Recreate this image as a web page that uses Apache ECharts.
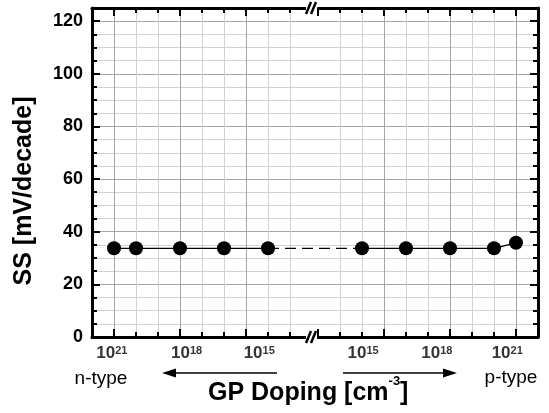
<!DOCTYPE html>
<html><head><meta charset="utf-8">
<script src="https://cdn.jsdelivr.net/npm/echarts@6/dist/echarts.min.js"></script>
<style>html,body{margin:0;padding:0;background:#fff}#c{width:549px;height:413px}</style>
</head><body><div id="c"></div>
<script>
// ---- data ----
const nTypeExp = [21, 20, 18, 16, 14];          // log10 doping, n-type side
const nTypeSS  = [33.7, 33.7, 33.7, 33.7, 33.7];
const pTypeExp = [14, 16, 18, 20, 21];          // log10 doping, p-type side
const pTypeSS  = [33.7, 33.7, 33.7, 33.7, 35.8];
const nTickLabelExp  = [21.1, 17.7, 14.4];
const nTickLabelText = ['21', '18', '15'];
const pTickLabelExp  = [14.05, 17.4, 20.6];
const pTickLabelText = ['15', '18', '21'];
const yMin = 0, yMax = 125;
const expLow = 12, expHigh = 22;
const xTitleMain = 'GP Doping [cm', xTitleSup = '-3', xTitleEnd = ']';

// ---- layout ----
const FONT = '"Liberation Sans", Arial, sans-serif';
const GAP = 6 / 22;                     // broken-axis gap in axis units
const nPos = e => expHigh - e;
const pPos = e => (expHigh - expLow) + GAP + (e - expLow);
const minorC = '#d2d2d2', majorC = '#a6a6a6';

const chart = echarts.init(document.getElementById('c'), null, {renderer: 'canvas'});

function segAxes(gridIndex, inverse) {
  const base = {type: 'value', gridIndex, min: expLow, max: expHigh, inverse,
    axisLabel: {show: false}};
  return [
    Object.assign({}, base, {position: 'bottom', interval: 1,
      axisLine: {show: true, lineStyle: {color: '#000', width: 3}},
      axisTick: {show: true, inside: true, length: 5, lineStyle: {color: '#000', width: 2}},
      splitLine: {show: true, showMinLine: false, showMaxLine: false, lineStyle: {color: minorC, width: 1}}}),
    Object.assign({}, base, {position: 'bottom', interval: 3,
      axisLine: {show: false},
      axisTick: {show: true, inside: true, length: 8, lineStyle: {color: '#000', width: 2}},
      splitLine: {show: true, showMinLine: false, showMaxLine: false, lineStyle: {color: majorC, width: 1}}}),
    Object.assign({}, base, {position: 'top', interval: 1,
      axisLine: {show: true, lineStyle: {color: '#000', width: 3}},
      axisTick: {show: true, inside: true, length: 5, lineStyle: {color: '#000', width: 2}},
      splitLine: {show: false}}),
    Object.assign({}, base, {position: 'top', interval: 3,
      axisLine: {show: false},
      axisTick: {show: true, inside: true, length: 8, lineStyle: {color: '#000', width: 2}},
      splitLine: {show: false}})
  ];
}

const tickLabelData = nTickLabelExp.map((e, i) => ({value: [nPos(e), yMin], t: nTickLabelText[i]}))
  .concat(pTickLabelExp.map((e, i) => ({value: [pPos(e), yMin], t: pTickLabelText[i]})));

const option = {
  animation: false,
  backgroundColor: '#fff',
  grid: [
    {left: 92, right: 11, top: 8, bottom: 76},
    {left: 92, width: 220, top: 8, bottom: 76},
    {left: 318, right: 11, top: 8, bottom: 76}
  ],
  xAxis: [
    {type: 'value', gridIndex: 0, min: 0, max: (expHigh - expLow) * 2 + GAP, show: false}
  ].concat(segAxes(1, true), segAxes(2, false)),
  yAxis: [
    {type: 'value', gridIndex: 0, min: yMin, max: yMax, interval: 5, position: 'left',
      axisLine: {show: true, lineStyle: {color: '#000', width: 3}},
      axisTick: {show: true, inside: true, length: 5, lineStyle: {color: '#000', width: 2}},
      axisLabel: {show: false},
      splitLine: {show: true, lineStyle: {color: minorC, width: 1}}},
    {type: 'value', gridIndex: 0, min: yMin, max: yMax, interval: 20, position: 'left',
      axisLine: {show: false},
      axisTick: {show: true, inside: true, length: 8, lineStyle: {color: '#000', width: 2}},
      axisLabel: {show: true, showMaxLabel: false, margin: 9, color: '#000',
        fontFamily: FONT, fontSize: 18, fontWeight: 'bold'},
      splitLine: {show: true, showMinLine: false, showMaxLine: false, lineStyle: {color: majorC, width: 1}},
      name: 'SS [mV/decade]', nameLocation: 'middle', nameGap: 55,
      nameTextStyle: {fontFamily: FONT, fontSize: 25, fontWeight: 'bold', color: '#000', padding: [0, 37, 0, 0]}},
    {type: 'value', gridIndex: 0, min: yMin, max: yMax, interval: 5, position: 'right',
      axisLine: {show: true, lineStyle: {color: '#000', width: 3}},
      axisTick: {show: true, inside: true, length: 5, lineStyle: {color: '#000', width: 2}},
      axisLabel: {show: false}, splitLine: {show: false}},
    {type: 'value', gridIndex: 0, min: yMin, max: yMax, interval: 20, position: 'right',
      axisLine: {show: false},
      axisTick: {show: true, inside: true, length: 8, lineStyle: {color: '#000', width: 2}},
      axisLabel: {show: false}, splitLine: {show: false}},
    {type: 'value', gridIndex: 1, min: yMin, max: yMax, show: false, splitLine: {show: false}},
    {type: 'value', gridIndex: 2, min: yMin, max: yMax, show: false, splitLine: {show: false}}
  ],
  series: [
    {type: 'line', xAxisIndex: 0, yAxisIndex: 0, symbol: 'none', z: 3,
      lineStyle: {color: '#000', width: 1.3, type: [11, 6]},
      data: [[nPos(nTypeExp[nTypeExp.length - 1]), nTypeSS[nTypeSS.length - 1]], [pPos(pTypeExp[0]), pTypeSS[0]]]},
    {type: 'line', name: 'n-type', xAxisIndex: 0, yAxisIndex: 0, symbol: 'circle', symbolSize: 14, z: 4,
      itemStyle: {color: '#000'}, lineStyle: {color: '#000', width: 1.3},
      data: nTypeExp.map((e, i) => [nPos(e), nTypeSS[i]])},
    {type: 'line', name: 'p-type', xAxisIndex: 0, yAxisIndex: 0, symbol: 'circle', symbolSize: 14, z: 4,
      itemStyle: {color: '#000'}, lineStyle: {color: '#000', width: 1.3},
      data: pTypeExp.map((e, i) => [pPos(e), pTypeSS[i]])},
    {type: 'scatter', xAxisIndex: 0, yAxisIndex: 0, symbolSize: 0, clip: false, silent: true, z: 5,
      data: tickLabelData,
      label: {show: true, position: 'bottom', distance: 8,
        formatter: p => '{b|10}{s|' + p.data.t + '}',
        rich: {
          b: {fontFamily: FONT, fontSize: 17, fontWeight: 'bold', color: '#000', lineHeight: 17},
          s: {fontFamily: FONT, fontSize: 11, fontWeight: 'bold', color: '#000', lineHeight: 11, verticalAlign: 'top'}
        }}}
  ]
};
chart.setOption(option);

// decorations: break marks, arrows, type labels, x title
function breakMark(y) {
  return [
    {type: 'rect', shape: {x: 306, y: y - 9, width: 11, height: 18}, style: {fill: '#fff'}, z: 10},
    {type: 'line', shape: {x1: 306, y1: y + 6, x2: 311, y2: y - 6}, style: {stroke: '#000', lineWidth: 2.5}, z: 11},
    {type: 'line', shape: {x1: 311, y1: y + 6, x2: 316, y2: y - 6}, style: {stroke: '#000', lineWidth: 2.5}, z: 11}
  ];
}
const topY = chart.convertToPixel({yAxisIndex: 0}, yMax);
const botY = chart.convertToPixel({yAxisIndex: 0}, yMin);

const ctx = document.createElement('canvas').getContext('2d');
const mainFont = 'bold 25px ' + FONT, supFont = 'bold 13px ' + FONT;
ctx.font = mainFont; const wMain = ctx.measureText(xTitleMain).width;
ctx.font = supFont; const wSup = ctx.measureText(xTitleSup).width;
const titleX = 208, titleMid = 393, supMid = 381;

chart.setOption({
  graphic: [].concat(breakMark(topY), breakMark(botY), [
    {type: 'text', x: titleX, y: titleMid, style: {text: xTitleMain, font: mainFont, fill: '#000', align: 'left', verticalAlign: 'middle'}},
    {type: 'text', x: titleX + wMain, y: supMid, style: {text: xTitleSup, font: supFont, fill: '#000', align: 'left', verticalAlign: 'middle'}},
    {type: 'text', x: titleX + wMain + wSup, y: titleMid, style: {text: xTitleEnd, font: mainFont, fill: '#000', align: 'left', verticalAlign: 'middle'}},
    {type: 'text', x: 101, y: 379, style: {text: 'n-type', font: '19px ' + FONT, fill: '#000', align: 'center', verticalAlign: 'middle'}},
    {type: 'text', x: 511, y: 378, style: {text: 'p-type', font: '19px ' + FONT, fill: '#000', align: 'center', verticalAlign: 'middle'}},
    {type: 'line', shape: {x1: 277, y1: 373, x2: 172, y2: 373}, style: {stroke: '#000', lineWidth: 1.6}},
    {type: 'polygon', shape: {points: [[162, 373], [176, 368.5], [176, 377.5]]}, style: {fill: '#000'}},
    {type: 'line', shape: {x1: 343, y1: 373, x2: 447, y2: 373}, style: {stroke: '#000', lineWidth: 1.6}},
    {type: 'polygon', shape: {points: [[457, 373], [443, 368.5], [443, 377.5]]}, style: {fill: '#000'}}
  ])
});
</script></body></html>
